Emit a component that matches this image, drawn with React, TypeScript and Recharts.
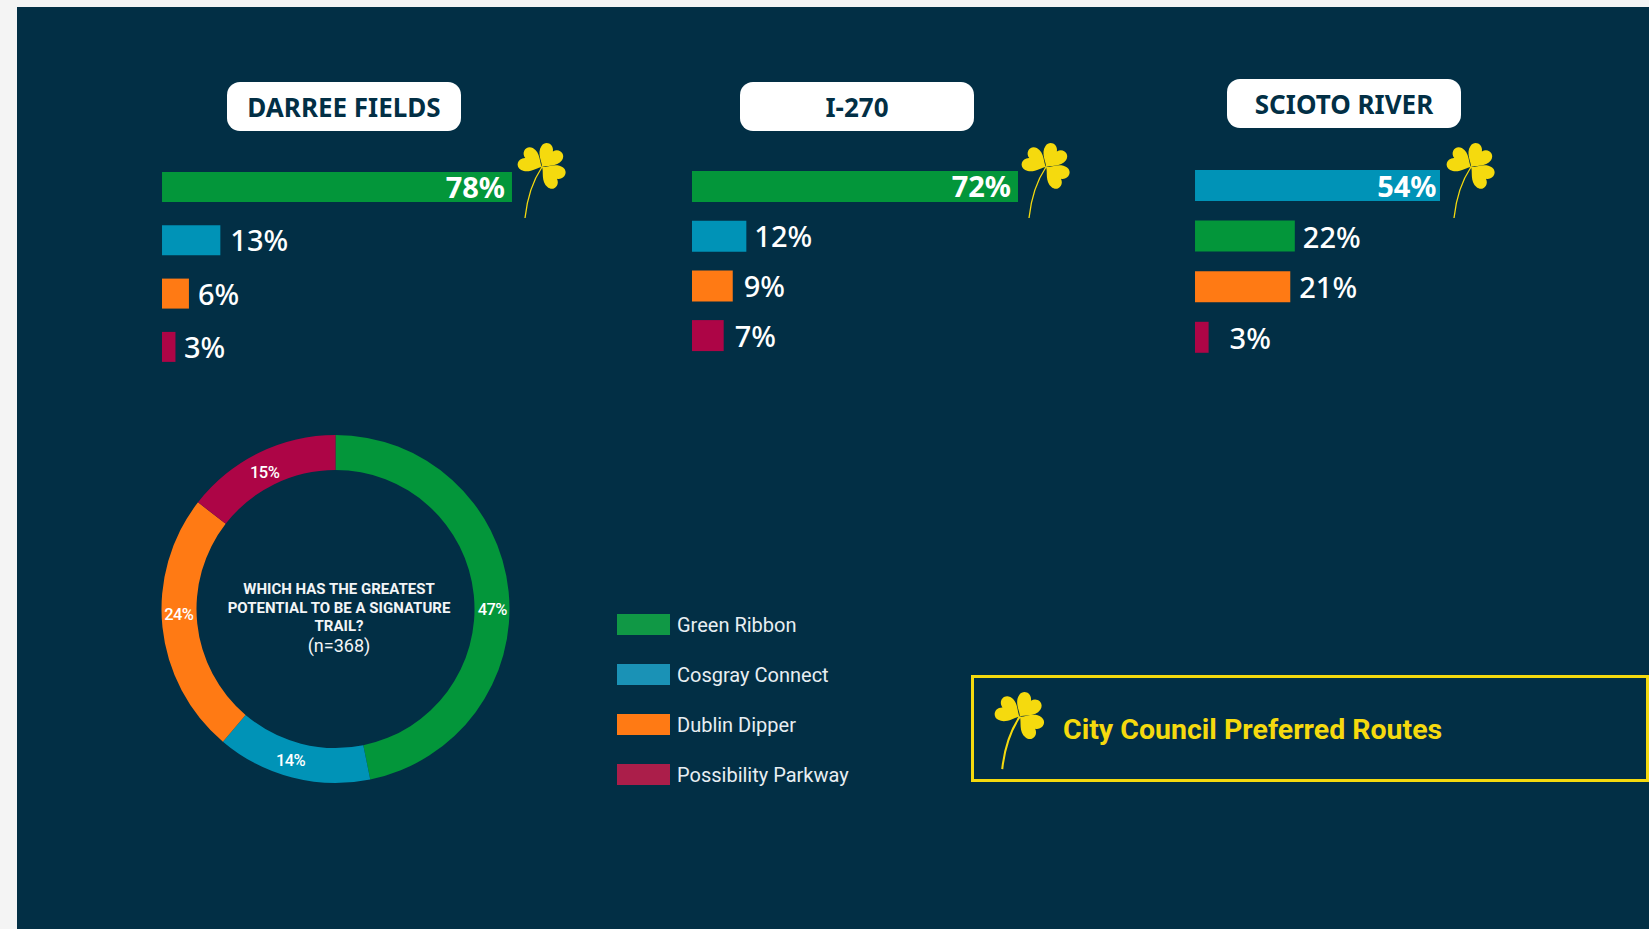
import { Bar, BarChart, Cell, LabelList, Legend, Pie, PieChart, XAxis, YAxis } from "recharts";

const NAVY = "#022f45";
const YELLOW = "#f5da0e";
const GREEN = "#03963a";
const BLUE = "#0093b7";
const ORANGE = "#ff7a14";
const CRIMSON = "#ad0546";

const BAR_FONT = "'Noto Sans', sans-serif";
const NARROW_FONT = "Roboto, sans-serif";

const routeNames = ["Green Ribbon", "Cosgray Connect", "Dublin Dipper", "Possibility Parkway"];
// slice sizes measured off the ring, they round to the printed 47/14/24/15
const routeShares = [46.8, 14.4, 24.3, 14.5];
const routeColors = [GREEN, BLUE, ORANGE, CRIMSON];
const legendColors = ["#109845", "#1a92b6", "#ff7a14", "#ab1e4a"];
const pieLabelDx = [1, -6, -1, -2];
const pieLabelDy = [16, 0, -11, 4];
const pieTitle = ["WHICH HAS THE GREATEST", "POTENTIAL TO BE A SIGNATURE", "TRAIL?"];

const darreeValues = [78, 13, 6, 3];
const darreeColors = [GREEN, BLUE, ORANGE, CRIMSON];
const i270Values = [72, 12, 9, 7];
const i270Colors = [GREEN, BLUE, ORANGE, CRIMSON];
const sciotoValues = [54, 22, 21, 3];
const sciotoColors = [BLUE, GREEN, ORANGE, CRIMSON];

// the rows are not evenly spaced between panels
const panels = [
	{ title: "DARREE FIELDS", values: darreeValues, colors: darreeColors, left: 162, top: 160.3, step: 53.3, plot: 350, barH: 30, inset: 7, labelDy: 11, gaps: [0, 10, 9, 8.5], pillX: 227, pillY: 82, leafX: 517 },
	{ title: "I-270", values: i270Values, colors: i270Colors, left: 692, top: 161.7, step: 49.7, plot: 326, barH: 31, inset: 7, labelDy: 11, gaps: [0, 8, 11, 11], pillX: 740, pillY: 82, leafX: 1021 },
	{ title: "SCIOTO RIVER", values: sciotoValues, colors: sciotoColors, left: 1195, top: 160, step: 50.6, plot: 245, barH: 31, inset: 3.5, labelDy: 11.5, gaps: [0, 8, 9, 21], pillX: 1227, pillY: 79, leafX: 1446 },
];

function Shamrock({ x, y, scale = 1, stem = 1.3 }: { x: number; y: number; scale?: number; stem?: number }) {
	const leaf = "M0 0C-2 -4 -12.5 -8 -12.5 -17C-12.5 -24 -3.5 -26 0 -19C3.5 -26 12.5 -24 12.5 -17C12.5 -8 2 -4 0 0Z";
	return (
		<svg
			width={52 * scale}
			height={78 * scale}
			viewBox="0 0 52 78"
			style={{ position: "absolute", left: x, top: y, overflow: "visible" }}
		>
			<path d="M25 23C15 38 10 55 8 74" fill="none" stroke={YELLOW} strokeWidth={stem} />
			{[-62, 35, 128].map((a) => (
				<path key={a} d={leaf} fill={YELLOW} transform={`translate(25 23) rotate(${a})`} />
			))}
		</svg>
	);
}

function BarPanel({ panel }: { panel: (typeof panels)[number] }) {
	const data = panel.values.map((value, i) => ({ name: String(i), value }));
	const chartWidth = panel.plot + 120;

	const renderLabel = (props: any) => {
		const { x, y, width, height, value, index } = props;
		const first = index === 0;
		return (
			<text
				x={first ? x + width - panel.inset : x + width + panel.gaps[index]}
				y={y + height / 2 + panel.labelDy}
				fill="#fff"
				textAnchor={first ? "end" : "start"}
				fontFamily={BAR_FONT}
				fontSize={29}
				fontWeight={first ? 700 : 500}
			>
				{value}%
			</text>
		);
	};

	return (
		<>
			<div
				style={{
					position: "absolute",
					left: panel.pillX,
					top: panel.pillY,
					width: 234,
					height: 49,
					background: "#fff",
					borderRadius: 13,
					color: NAVY,
					fontFamily: BAR_FONT,
					fontWeight: 700,
					fontSize: 26,
					lineHeight: "51px",
					textAlign: "center",
				}}
			>
				{panel.title}
			</div>
			<div style={{ position: "absolute", left: panel.left, top: panel.top }}>
				<BarChart
					width={chartWidth}
					height={panel.step * 4}
					data={data}
					layout="vertical"
					margin={{ top: 0, right: 120, bottom: 0, left: 0 }}
				>
					<XAxis type="number" hide domain={[0, panel.values[0]]} />
					<YAxis type="category" dataKey="name" hide />
					<Bar dataKey="value" barSize={panel.barH} isAnimationActive={false}>
						{data.map((d, i) => (
							<Cell key={d.name} fill={panel.colors[i]} />
						))}
						<LabelList dataKey="value" content={renderLabel} />
					</Bar>
				</BarChart>
			</div>
			<Shamrock x={panel.leafX} y={144} />
		</>
	);
}

const RAD = Math.PI / 180;

function renderPieLabel(props: any) {
	const { cx, cy, midAngle, innerRadius, outerRadius, value, index } = props;
	const r = (innerRadius + outerRadius) / 2;
	return (
		<text
			x={cx + r * Math.cos(-midAngle * RAD) + pieLabelDx[index]}
			y={cy + r * Math.sin(-midAngle * RAD) + pieLabelDy[index]}
			fill="#fff"
			textAnchor="middle"
			dominantBaseline="central"
			fontFamily={NARROW_FONT}
			fontWeight={500}
			fontSize={16.5}
			letterSpacing={-0.6}
		>
			{Math.round(value)}%
		</text>
	);
}

function renderLegend(props: any) {
	return (
		<div>
			{props.payload.map((item: any, i: number) => (
				<div key={item.value} style={{ display: "flex", alignItems: "center", height: 50 }}>
					<span style={{ width: 53, height: 21, background: legendColors[i], marginRight: 7 }} />
					<span style={{ color: "#e8eef2", fontFamily: NARROW_FONT, fontSize: 20 }}>{item.value}</span>
				</div>
			))}
		</div>
	);
}

export default function App() {
	const pieData = routeNames.map((name, i) => ({ name, value: routeShares[i], fill: routeColors[i] }));

	return (
		<div style={{ position: "absolute", left: 0, top: 0, width: 1649, height: 929, overflow: "hidden", background: "#f4f4f4" }}>
			<div style={{ position: "absolute", left: 17, top: 7, right: 0, bottom: 0, background: NAVY }} />

			{panels.map((p) => (
				<BarPanel key={p.title} panel={p} />
			))}

			<div style={{ position: "absolute", left: 140, top: 420 }}>
				<PieChart width={800} height={400} margin={{ top: 0, right: 0, bottom: 0, left: 0 }}>
					<Pie
						data={pieData}
						dataKey="value"
						nameKey="name"
						cx={195.5}
						cy={189}
						innerRadius={139}
						outerRadius={174}
						startAngle={90}
						endAngle={-270}
						stroke="none"
						label={renderPieLabel}
						labelLine={false}
						isAnimationActive={false}
					>
						{pieData.map((d, i) => (
							<Cell key={d.name} fill={routeColors[i]} />
						))}
					</Pie>
					<Legend
						content={renderLegend}
						layout="vertical"
						itemSorter={null}
						wrapperStyle={{ position: "absolute", left: 477, top: 179.5, width: 300, bottom: "auto" }}
					/>
					<text textAnchor="middle" fill="#f2f5f7" fontFamily={NARROW_FONT} fontWeight={700} fontSize={15}>
						{pieTitle.map((line, i) => (
							<tspan key={line} x={199} y={174 + i * 18.5}>
								{line}
							</tspan>
						))}
						<tspan x={199} y={232} fontWeight={400} fontSize={18}>
							(n=368)
						</tspan>
					</text>
				</PieChart>
			</div>

			<div
				style={{
					position: "absolute",
					left: 971,
					top: 675,
					width: 672,
					height: 101,
					border: `3px solid ${YELLOW}`,
					boxSizing: "content-box",
				}}
			/>
			<Shamrock x={994} y={693} scale={1.03} stem={2} />
			<div
				style={{
					position: "absolute",
					left: 1063,
					top: 710,
					color: YELLOW,
					fontFamily: NARROW_FONT,
					fontWeight: 700,
					fontSize: 28.5,
					lineHeight: "40px",
					whiteSpace: "nowrap",
				}}
			>
				City Council Preferred Routes
			</div>
		</div>
	);
}
